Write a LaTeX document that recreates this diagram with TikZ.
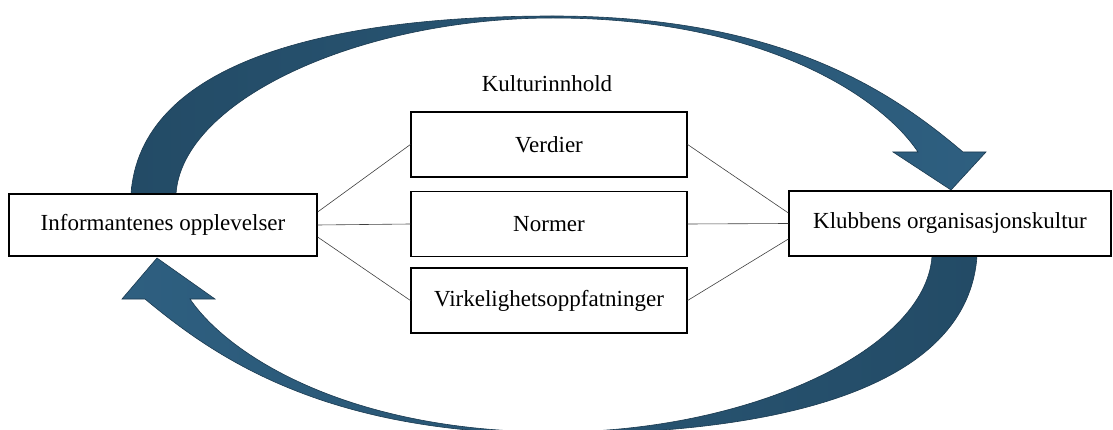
\documentclass[tikz,border=0pt]{standalone}
\usepackage{fontspec}
\setmainfont{Liberation Serif}
\definecolor{arrdark}{HTML}{234B66}
\definecolor{arrlight}{HTML}{2E5F80}
\definecolor{arredge}{HTML}{1B3A50}
\begin{document}
\begin{tikzpicture}[x=1pt,y=-1pt,
  box/.style={draw=black, line width=1.2pt, fill=white, inner sep=0pt,
              font=\fontsize{23}{27}\selectfont},
  midbox/.style={box, minimum width=276pt, minimum height=65pt},
  link/.style={draw=black!75, line width=0.6pt},
  bigarrow/.style={draw=arredge, line width=0.6pt}]
\useasboundingbox (0,0) rectangle (1113,430);
% top curved arrow (left -> right)
\path[bigarrow, left color=arrdark, right color=arrlight]
  (131,200) -- (131,194)
  .. controls (140,65) and (320,16) .. (553,16)
  .. controls (780,16) and (890,90) .. (963,152)
  -- (986,152) -- (951,190) -- (893,152) -- (918,152)
  .. controls (880,95) and (760,18) .. (553,18)
  .. controls (360,18) and (182,100) .. (176,194)
  -- (176,200) -- cycle;
% bottom curved arrow (right -> left)
\path[bigarrow, left color=arrlight, right color=arrdark]
  (977,250) -- (977,256)
  .. controls (968,385) and (788,434) .. (555,434)
  .. controls (328,434) and (218,360) .. (145,299)
  -- (122,299) -- (157,258) -- (215,299) -- (190,299)
  .. controls (228,355) and (348,432) .. (555,432)
  .. controls (748,432) and (926,350) .. (932,256)
  -- (932,250) -- cycle;
% nodes
\node[box, minimum width=308pt, minimum height=62pt] (L) at (163,225) {Informantenes opplevelser};
\node[box, minimum width=322pt, minimum height=65pt] (R) at (950,223.5) {Klubbens organisasjonskultur};
\node[midbox] (V) at (549,144.5) {Verdier};
\node[midbox] (N) at (549,224) {Normer};
\node[midbox] (W) at (549,300.5) {Virkelighetsoppfatninger};
\node[font=\fontsize{23}{27}\selectfont] (T) at (547,84) {Kulturinnhold};
% connectors
\draw[link] ([yshift=13pt]L.east) -- (V.west);
\draw[link] (L.east) -- (N.west);
\draw[link] ([yshift=-12pt]L.east) -- (W.west);
\draw[link] (V.east) -- ([yshift=10.5pt]R.west);
\draw[link] (N.east) -- (R.west);
\draw[link] (W.east) -- ([yshift=-15.5pt]R.west);
\end{tikzpicture}
\end{document}
